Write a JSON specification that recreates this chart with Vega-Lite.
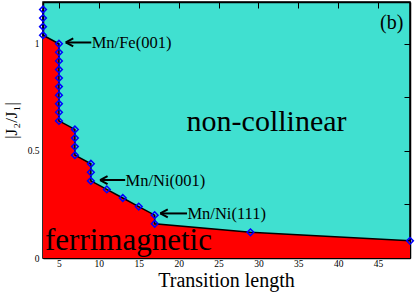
{
  "$schema": "https://vega.github.io/schema/vega-lite/v6.json",
  "width": 367,
  "height": 256,
  "autosize": {"type": "none"},
  "padding": {"left": 43, "top": 2, "right": 5, "bottom": 35},
  "datasets": {
    "boundary": [
      {"x": 3, "y": 1.16},
      {"x": 3, "y": 1.12},
      {"x": 3, "y": 1.08},
      {"x": 3, "y": 1.04},
      {"x": 5, "y": 1.00},
      {"x": 5, "y": 0.96},
      {"x": 5, "y": 0.92},
      {"x": 5, "y": 0.88},
      {"x": 5, "y": 0.84},
      {"x": 5, "y": 0.80},
      {"x": 5, "y": 0.76},
      {"x": 5, "y": 0.72},
      {"x": 5, "y": 0.68},
      {"x": 5, "y": 0.64},
      {"x": 7, "y": 0.60},
      {"x": 7, "y": 0.56},
      {"x": 7, "y": 0.52},
      {"x": 7, "y": 0.48},
      {"x": 9, "y": 0.44},
      {"x": 9, "y": 0.40},
      {"x": 9, "y": 0.36},
      {"x": 11, "y": 0.32},
      {"x": 13, "y": 0.28},
      {"x": 15, "y": 0.24},
      {"x": 17, "y": 0.20},
      {"x": 17, "y": 0.16},
      {"x": 29, "y": 0.12},
      {"x": 49, "y": 0.08}
    ],
    "notes": [
      {"label": "Mn/Fe(001)", "tipx": 5.85, "tipy": 1.006, "tailx": 9.05, "tx": 9.1, "ty": 0.98},
      {"label": "Mn/Ni(001)", "tipx": 10.15, "tipy": 0.364, "tailx": 13.3, "tx": 13.35, "ty": 0.338},
      {"label": "Mn/Ni(111)", "tipx": 17.7, "tipy": 0.208, "tailx": 21.05, "tx": 21.1, "ty": 0.183}
    ]
  },
  "layer": [
    {
      "data": {"name": "boundary"},
      "mark": {"type": "area", "color": "#ff0000", "orient": "vertical"},
      "encoding": {
        "x": {"field": "x", "type": "quantitative", "scale": {"domain": [3, 49], "nice": false, "zero": false},
          "axis": {"orient": "bottom", "values": [5, 10, 15, 20, 25, 30, 35, 40, 45], "title": "Transition length",
            "tickSize": -6, "labelPadding": 6, "titleFontSize": 20, "titleBaseline": "alphabetic", "titleY": 28.5, "titleX": 183}},
        "y": {"field": "y", "type": "quantitative", "stack": null, "scale": {"domain": [0, 1.195], "nice": false},
          "axis": {"orient": "left", "values": [0, 0.25, 0.5, 0.75, 1], "title": "|J₂/J₁|",
            "labelExpr": "datum.value == 0.25 || datum.value == 0.75 ? '' : (datum.value == 0.5 ? '0.5' : (datum.value == 1 ? '1' : '0'))",
            "labelOverlap": false,
            "tickSize": -6, "labelPadding": 10, "titleFontSize": 17, "titleAngle": -90, "titleBaseline": "alphabetic",
            "titleAlign": "center", "titleX": -27, "titleY": 118}}
      }
    },
    {
      "data": {"name": "boundary"},
      "mark": {"type": "line", "color": "black", "strokeWidth": 1.5},
      "encoding": {
        "x": {"field": "x", "type": "quantitative",
          "axis": {"orient": "top", "values": [5, 10, 15, 20, 25, 30, 35, 40, 45], "labels": false, "title": null, "tickSize": -6}},
        "y": {"field": "y", "type": "quantitative",
          "axis": {"orient": "right", "values": [0, 0.25, 0.5, 0.75, 1], "labels": false, "title": null, "tickSize": -6}}
      }
    },
    {
      "data": {"name": "boundary"},
      "mark": {"type": "point", "shape": "diamond", "filled": false, "color": "#0000ff", "strokeWidth": 1.5, "size": 45, "clip": false, "opacity": 1},
      "encoding": {
        "x": {"field": "x", "type": "quantitative", "axis": null},
        "y": {"field": "y", "type": "quantitative", "axis": null}
      }
    },
    {
      "data": {"name": "notes"},
      "mark": {"type": "rule", "color": "black", "strokeWidth": 2},
      "encoding": {
        "x": {"field": "tipx", "type": "quantitative", "axis": null},
        "x2": {"field": "tailx"},
        "y": {"field": "tipy", "type": "quantitative", "axis": null}
      }
    },
    {
      "data": {"name": "notes"},
      "mark": {"type": "point", "shape": "M0,0L1.5,-0.8M0,0L1.5,0.8", "filled": false, "color": "black", "strokeWidth": 2, "size": 100, "opacity": 1},
      "encoding": {
        "x": {"field": "tipx", "type": "quantitative", "axis": null},
        "y": {"field": "tipy", "type": "quantitative", "axis": null}
      }
    },
    {
      "data": {"name": "notes"},
      "mark": {"type": "text", "font": "'Liberation Serif', 'DejaVu Serif', serif", "fontSize": 16.5, "align": "left", "baseline": "alphabetic", "color": "black"},
      "encoding": {
        "x": {"field": "tx", "type": "quantitative", "axis": null},
        "y": {"field": "ty", "type": "quantitative", "axis": null},
        "text": {"field": "label"}
      }
    },
    {
      "data": {"values": [{"label": "non-collinear", "x": 21.0, "y": 0.594}]},
      "mark": {"type": "text", "font": "'Liberation Serif', 'DejaVu Serif', serif", "fontSize": 30, "align": "left", "baseline": "alphabetic", "color": "black"},
      "encoding": {
        "x": {"field": "x", "type": "quantitative", "axis": null},
        "y": {"field": "y", "type": "quantitative", "axis": null},
        "text": {"field": "label"}
      }
    },
    {
      "data": {"values": [{"label": "ferrimagnetic", "x": 3.25, "y": 0.037}]},
      "mark": {"type": "text", "font": "'Liberation Serif', 'DejaVu Serif', serif", "fontSize": 31, "align": "left", "baseline": "alphabetic", "color": "black"},
      "encoding": {
        "x": {"field": "x", "type": "quantitative", "axis": null},
        "y": {"field": "y", "type": "quantitative", "axis": null},
        "text": {"field": "label"}
      }
    },
    {
      "data": {"values": [{"label": "(b)", "x": 48.17, "y": 1.071}]},
      "mark": {"type": "text", "font": "'Liberation Serif', 'DejaVu Serif', serif", "fontSize": 20, "align": "right", "baseline": "alphabetic", "color": "black"},
      "encoding": {
        "x": {"field": "x", "type": "quantitative", "axis": null},
        "y": {"field": "y", "type": "quantitative", "axis": null},
        "text": {"field": "label"}
      }
    }
  ],
  "resolve": {"axis": {"x": "independent", "y": "independent"}},
  "config": {
    "view": {"fill": "#40e0d0", "stroke": "black", "strokeWidth": 1.5},
    "axis": {
      "grid": false,
      "domainColor": "black",
      "domainWidth": 1.5,
      "tickColor": "black",
      "tickWidth": 1,
      "labelFont": "'Liberation Serif', 'DejaVu Serif', serif",
      "labelFontSize": 9.5,
      "labelColor": "black",
      "titleFont": "'Liberation Serif', 'DejaVu Serif', serif",
      "titleFontWeight": "normal",
      "titleColor": "black"
    }
  }
}
